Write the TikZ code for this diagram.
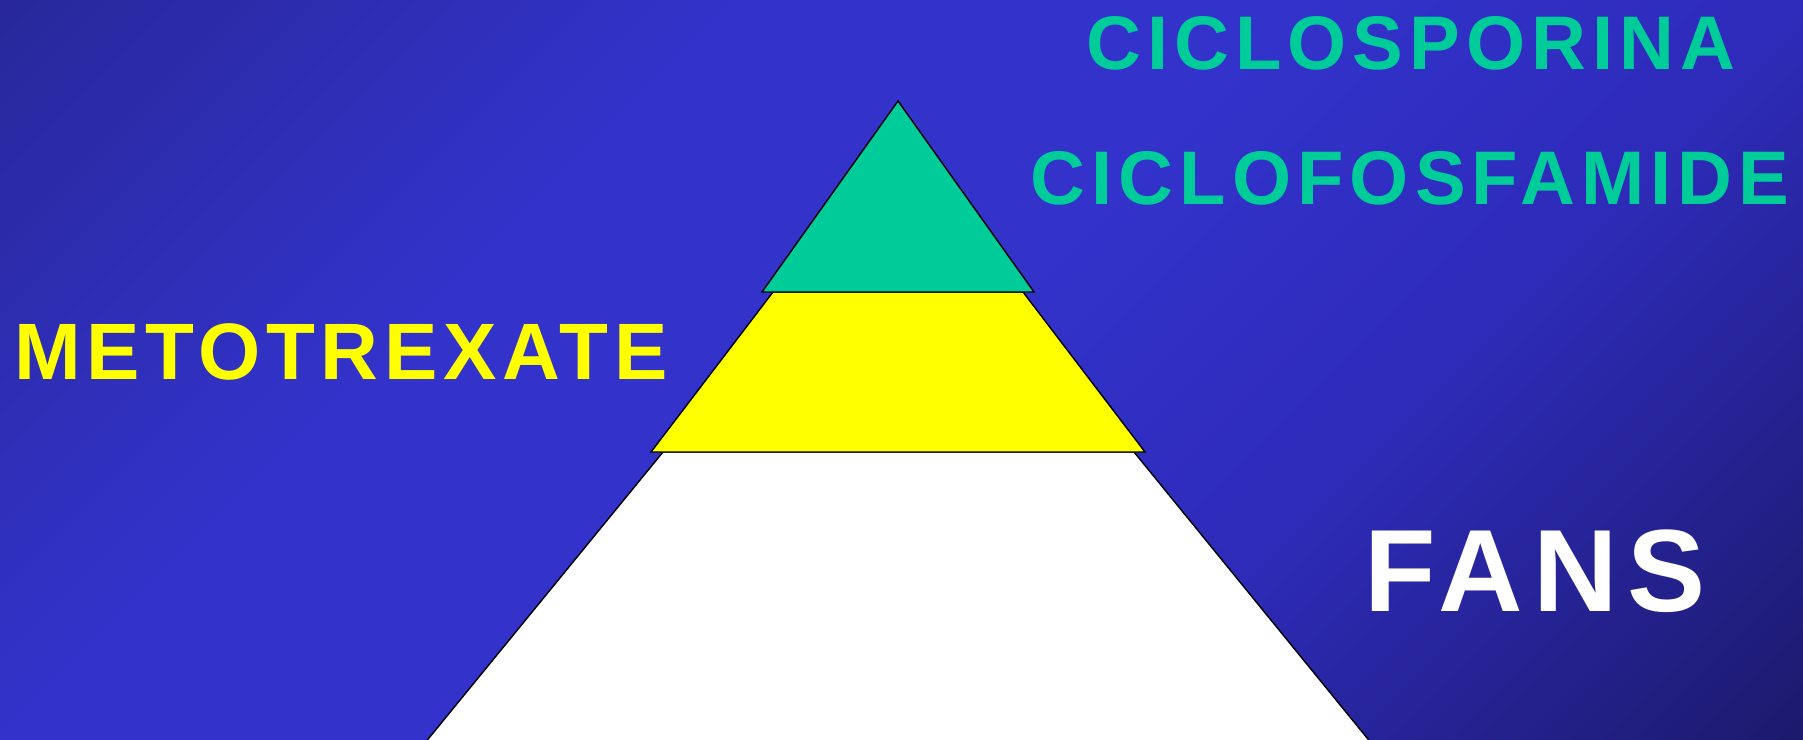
\documentclass[tikz,border=0pt]{standalone}
\usepackage{fontspec}
\setmainfont{Liberation Sans}
\newfontfamily\tierfont{Liberation Sans}[LetterSpace=8]

\definecolor{bgdark}{HTML}{28289B}
\definecolor{bgmid}{HTML}{3333CC}
\definecolor{bgfar}{HTML}{2E2BBA}
\definecolor{bgnavy}{HTML}{1C1A6C}
\definecolor{topgreen}{HTML}{00CC99}
\definecolor{midyellow}{HTML}{FFFF00}

\pgfdeclarehorizontalshading{slideshade}{100bp}{color(0bp)=(bgdark); color(25bp)=(bgdark);
  color(40bp)=(bgmid); color(50bp)=(bgmid); color(60.5bp)=(bgfar); color(75bp)=(bgnavy); color(100bp)=(bgnavy)}

\tikzset{
  tier/.style={draw=black, line width=0.7pt, line join=miter},
  drug/.style={font=\tierfont\bfseries, inner sep=0pt, anchor=base}
}

\begin{document}
\begin{tikzpicture}[x=0.5pt, y=-0.5pt]
    % Background
    \useasboundingbox (0,0) rectangle (1803,739);
    \begin{scope}
      \clip (0,0) rectangle (1803,739);
      \shade[shading=slideshade, shading angle=-45] (0,-532) rectangle (1803,1271);

      % Pyramid
      \coordinate (apex) at (898,101);
      \fill[white, tier] (663,452) -- (1134,452) -- (1385,760) -- (411,760) -- cycle;
      \fill[midyellow, tier] (773,292) -- (1023,292) -- (1145,452) -- (651,452) -- cycle;
      \fill[topgreen, tier] (apex) -- (1034,292) -- (762,292) -- cycle;
    \end{scope}

    % Labels
    \node[drug, text=topgreen, font=\tierfont\bfseries\fontsize{38pt}{38pt}\selectfont] (ciclosporina) at (1411,69) {CICLOSPORINA};
    \node[drug, text=topgreen, font=\tierfont\bfseries\fontsize{38pt}{38pt}\selectfont] (ciclofosfamide) at (1410,204) {CICLOFOSFAMIDE};
    \node[drug, text=midyellow, font=\tierfont\bfseries\fontsize{40pt}{40pt}\selectfont\addfontfeatures{LetterSpace=7}] (metotrexate) at (341,379) {METOTREXATE};
    \node[drug, text=white, font=\tierfont\bfseries\fontsize{58.5pt}{58.5pt}\selectfont\addfontfeatures{LetterSpace=8.5}] (fans) at (1535,611) {FANS};
\end{tikzpicture}
\end{document}
